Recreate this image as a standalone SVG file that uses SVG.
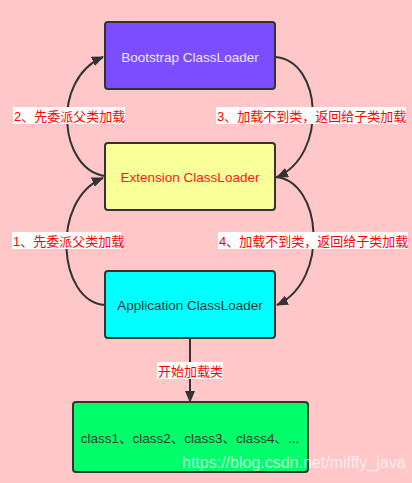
<svg xmlns="http://www.w3.org/2000/svg" width="412" height="483" viewBox="0 0 412 483">
<defs>
<marker id="ah" viewBox="0 0 12 10" refX="11" refY="5" markerWidth="12" markerHeight="10" markerUnits="userSpaceOnUse" orient="auto">
<path d="M0,0 L12,5 L0,10 Z" fill="#333"/>
</marker>
<style>
.box{stroke:#333;stroke-width:2}
.t{font-family:"Liberation Sans","Noto Sans CJK SC",sans-serif;font-size:13.5px;text-anchor:middle}
.lb{font-family:"Liberation Sans","Noto Sans CJK SC",sans-serif;font-size:13px;fill:#ff0000}
.bg{fill:#ffffff}
.c{fill:none;stroke:#333;stroke-width:2;marker-end:url(#ah)}
</style>
</defs>
<rect width="412" height="483" fill="#ffc7c7"/>
<g id="connectors">
<path class="c" d="M105,176 C60,170 50,80 103,57"/>
<path class="c" d="M275,57 C322,60 328,155 277,177"/>
<path class="c" d="M105,305 C58,302 50,200 103,178"/>
<path class="c" d="M275,177 C322,180 330,280 277,305"/>
<path class="c" d="M190,338 L190,402"/>
<rect class="bg" x="13" y="107" width="112" height="17"/>
<text class="lb" x="14" y="121">2、先委派父类加载</text>
<rect class="bg" x="216" y="107" width="190" height="17"/>
<text class="lb" x="217" y="121">3、加载不到类，返回给子类加载</text>
<rect class="bg" x="12" y="232" width="109" height="17"/>
<text class="lb" x="13" y="246">1、先委派父类加载</text>
<rect class="bg" x="218" y="232" width="190" height="17"/>
<text class="lb" x="219" y="246">4、加载不到类，返回给子类加载</text>
<rect class="bg" x="157" y="362" width="66" height="17"/>
<text class="lb" x="158" y="376">开始加载类</text>
</g>
<g id="bootstrap">
<rect class="box" x="105" y="22" width="170" height="67" rx="3" fill="#7c4dff"/>
<text class="t" x="190" y="62" fill="#ece6ff">Bootstrap ClassLoader</text>
</g>
<g id="extension">
<rect class="box" x="105" y="143" width="170" height="67" rx="3" fill="#f8ff99"/>
<text class="t" x="190" y="182" fill="#ff1a1a">Extension ClassLoader</text>
</g>
<g id="application">
<rect class="box" x="105" y="271" width="170" height="67" rx="3" fill="#00ffff"/>
<text class="t" x="190" y="310" fill="#333">Application ClassLoader</text>
</g>
<g id="classes">
<rect class="box" x="73" y="402" width="235" height="70" rx="3" fill="#00ff6a"/>
<text class="t" x="190" y="443" fill="#333">class1、class2、class3、class4、...</text>
</g>
<text x="182" y="468" font-family="Liberation Sans, sans-serif" font-size="16" fill="#ffffff" fill-opacity="0.7">https://blog.csdn.net/mifffy_java</text>
</svg>
